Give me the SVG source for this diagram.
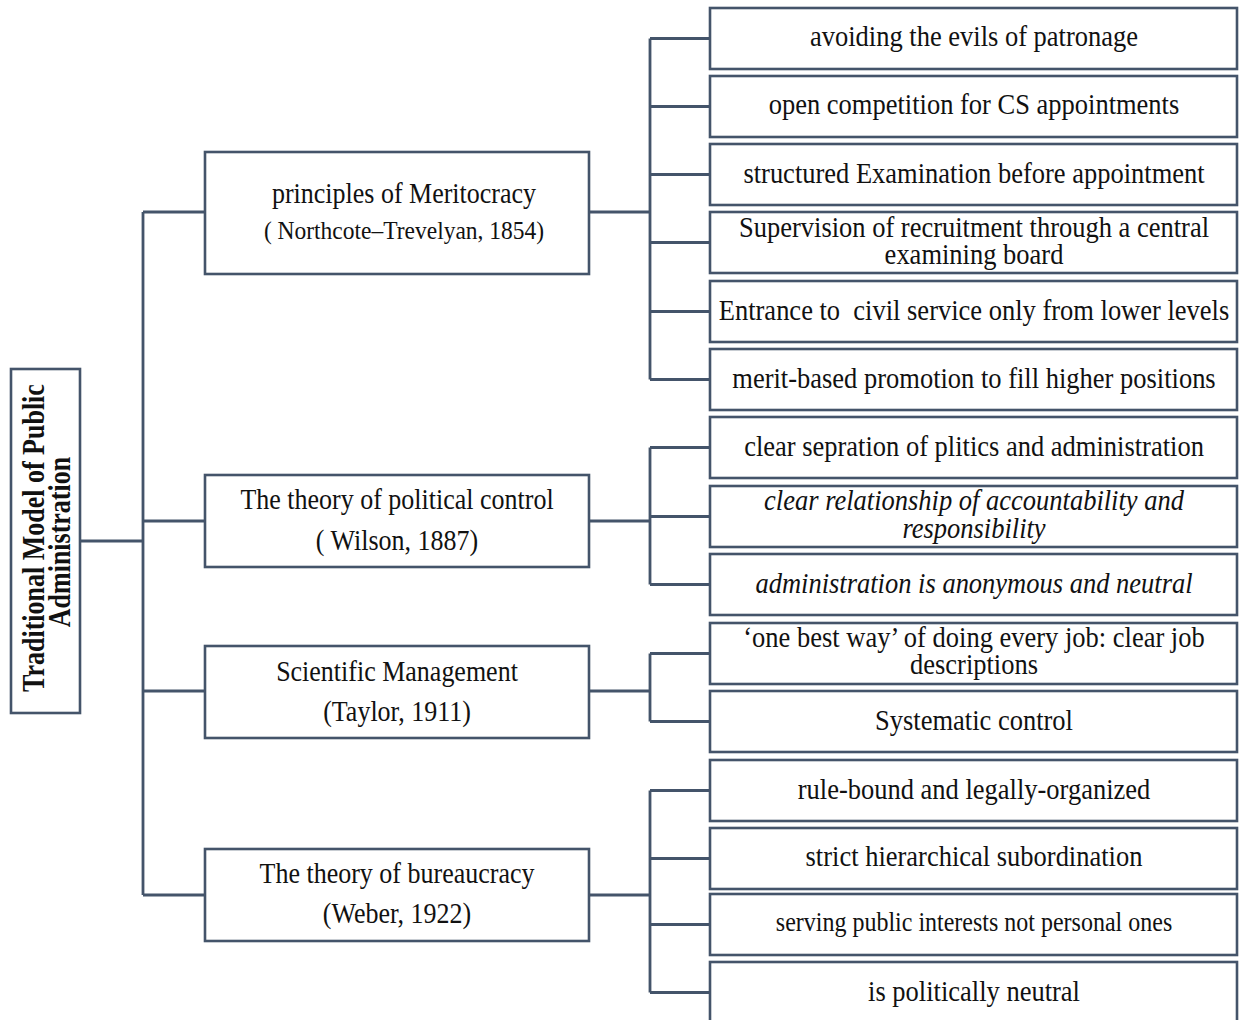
<svg xmlns="http://www.w3.org/2000/svg" width="1239" height="1020" viewBox="0 0 1239 1020">
  <style>
    .box { fill: #ffffff; stroke: #44546a; stroke-width: 2.6; }
    .wire { fill: none; stroke: #44546a; stroke-width: 2.8; }
    text { font-family: "Liberation Serif", "Times New Roman", serif; fill: #111111; text-anchor: middle; }
    .t { font-size: 26.5px; }
    .tm { font-size: 26px; }
    .ts { font-size: 23.5px; }
    .tx { font-size: 24px; }
    .it { font-style: italic; }
    .root { font-size: 26px; font-weight: bold; }
  </style>
  <rect width="1239" height="1020" fill="#ffffff"/>

  <!-- connectors -->
  <g id="connectors" class="wire">
    <path d="M80 541 H143 M143 212 V895 M143 212 H205 M143 521 H205 M143 691 H205 M143 895 H205"/>
    <path d="M589 212 H650 M650 38.5 V379.5 M650 38.5 H710 M650 106.5 H710 M650 174.5 H710 M650 242.5 H710 M650 311.5 H710 M650 379.5 H710"/>
    <path d="M589 521 H650 M650 447.5 V584.5 M650 447.5 H710 M650 516.5 H710 M650 584.5 H710"/>
    <path d="M589 691 H650 M650 653.5 V721.5 M650 653.5 H710 M650 721.5 H710"/>
    <path d="M589 895 H650 M650 790.5 V992.5 M650 790.5 H710 M650 858.5 H710 M650 924.5 H710 M650 992.5 H710"/>
  </g>

  <!-- root -->
  <g id="root">
    <rect class="box" x="11" y="369" width="69" height="344"/>
    <text class="root" transform="translate(44 538) rotate(-90) scale(1 1.2)">Traditional Model of Public</text>
    <text class="root" transform="translate(70 542) rotate(-90) scale(1 1.2)">Administration</text>
  </g>

  <!-- second level -->
  <g id="meritocracy">
    <rect class="box" x="205" y="152" width="384" height="122"/>
    <text class="tm" transform="translate(404 203) scale(1 1.11)">principles of Meritocracy</text>
    <text class="ts" transform="translate(404 239) scale(1 1.11)">( Northcote–Trevelyan, 1854)</text>
  </g>
  <g id="political-control">
    <rect class="box" x="205" y="475" width="384" height="92"/>
    <text class="tm" transform="translate(397 509) scale(1 1.11)">The theory of political control</text>
    <text class="tm" transform="translate(397 550) scale(1 1.11)">( Wilson, 1887)</text>
  </g>
  <g id="scientific-management">
    <rect class="box" x="205" y="646" width="384" height="92"/>
    <text class="tm" transform="translate(397 681) scale(1 1.11)">Scientific Management</text>
    <text class="tm" transform="translate(397 721) scale(1 1.11)">(Taylor, 1911)</text>
  </g>
  <g id="bureaucracy">
    <rect class="box" x="205" y="849" width="384" height="92"/>
    <text class="tm" transform="translate(397 883) scale(1 1.11)">The theory of bureaucracy</text>
    <text class="tm" transform="translate(397 923) scale(1 1.11)">(Weber, 1922)</text>
  </g>

  <!-- third level -->
  <g id="patronage">
    <rect class="box" x="710" y="8" width="527" height="61"/>
    <text class="t" transform="translate(974 46) scale(1 1.11)">avoiding the evils of patronage</text>
  </g>
  <g id="open-competition">
    <rect class="box" x="710" y="76" width="527" height="61"/>
    <text class="t" transform="translate(974 114) scale(1 1.11)">open competition for CS appointments</text>
  </g>
  <g id="examination">
    <rect class="box" x="710" y="144" width="527" height="61"/>
    <text class="t" transform="translate(974 183) scale(1 1.11)">structured Examination before appointment</text>
  </g>
  <g id="supervision">
    <rect class="box" x="710" y="212" width="527" height="61"/>
    <text class="t" transform="translate(974 237) scale(1 1.11)">Supervision of recruitment through a central</text>
    <text class="t" transform="translate(974 264) scale(1 1.11)">examining board</text>
  </g>
  <g id="entrance">
    <rect class="box" x="710" y="281" width="527" height="61"/>
    <text class="t" transform="translate(974 320) scale(1 1.11)" xml:space="preserve">Entrance to  civil service only from lower levels</text>
  </g>
  <g id="promotion">
    <rect class="box" x="710" y="349" width="527" height="61"/>
    <text class="t" transform="translate(974 388) scale(1 1.11)">merit-based promotion to fill higher positions</text>
  </g>
  <g id="separation">
    <rect class="box" x="710" y="417" width="527" height="61"/>
    <text class="t" transform="translate(974 456) scale(1 1.11)">clear sepration of plitics and administration</text>
  </g>
  <g id="accountability">
    <rect class="box" x="710" y="486" width="527" height="61"/>
    <text class="t it" transform="translate(974 510) scale(1 1.11)">clear relationship of accountability and</text>
    <text class="t it" transform="translate(974 538) scale(1 1.11)">responsibility</text>
  </g>
  <g id="anonymous">
    <rect class="box" x="710" y="554" width="527" height="61"/>
    <text class="t it" transform="translate(974 593) scale(1 1.11)">administration is anonymous and neutral</text>
  </g>
  <g id="one-best-way">
    <rect class="box" x="710" y="623" width="527" height="61"/>
    <text class="t" transform="translate(974 647) scale(1 1.11)">‘one best way’ of doing every job: clear job</text>
    <text class="t" transform="translate(974 674) scale(1 1.11)">descriptions</text>
  </g>
  <g id="systematic-control">
    <rect class="box" x="710" y="691" width="527" height="61"/>
    <text class="t" transform="translate(974 730) scale(1 1.11)">Systematic control</text>
  </g>
  <g id="rule-bound">
    <rect class="box" x="710" y="760" width="527" height="61"/>
    <text class="t" transform="translate(974 799) scale(1 1.11)">rule-bound and legally-organized</text>
  </g>
  <g id="hierarchy">
    <rect class="box" x="710" y="828" width="527" height="61"/>
    <text class="t" transform="translate(974 866) scale(1 1.11)">strict hierarchical subordination</text>
  </g>
  <g id="public-interest">
    <rect class="box" x="710" y="894" width="527" height="61"/>
    <text class="tx" transform="translate(974 931) scale(1 1.11)">serving public interests not personal ones</text>
  </g>
  <g id="neutral">
    <rect class="box" x="710" y="962" width="527" height="61"/>
    <text class="t" transform="translate(974 1001) scale(1 1.11)">is politically neutral</text>
  </g>
</svg>
